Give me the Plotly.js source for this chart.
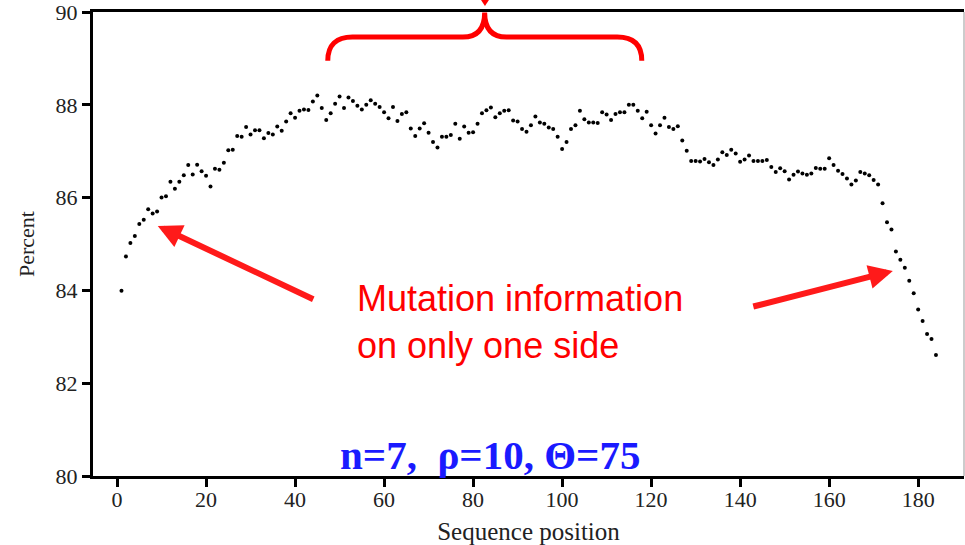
<!DOCTYPE html>
<html>
<head>
<meta charset="utf-8">
<script src="https://cdn.plot.ly/plotly-3.0.1.min.js"></script>
<style>html,body{margin:0;padding:0;background:#fff;}#chart{width:965px;height:545px;}</style>
</head>
<body>
<div id="chart"></div>
<script>
var percentValues = [
  83.99, 84.73, 85.02, 85.17, 85.43, 85.52, 85.75, 85.66, 85.70, 86.00,
  86.03, 86.34, 86.19, 86.34, 86.48, 86.70, 86.50, 86.71, 86.57, 86.47,
  86.24, 86.62, 86.60, 86.75, 87.02, 87.03, 87.33, 87.31, 87.52, 87.36,
  87.45, 87.45, 87.28, 87.39, 87.36, 87.53, 87.44, 87.64, 87.82, 87.72,
  87.87, 87.90, 87.89, 88.07, 88.20, 87.93, 87.67, 87.82, 88.02, 88.18,
  87.93, 88.16, 88.08, 87.98, 87.90, 88.00, 88.10, 88.02, 87.95, 87.84,
  87.71, 87.95, 87.65, 87.80, 87.84, 87.49, 87.33, 87.49, 87.60, 87.40,
  87.20, 87.08, 87.31, 87.31, 87.35, 87.59, 87.27, 87.53, 87.40, 87.41,
  87.59, 87.82, 87.88, 87.94, 87.73, 87.82, 87.87, 87.88, 87.66, 87.64,
  87.48, 87.42, 87.56, 87.75, 87.62, 87.59, 87.51, 87.48, 87.31, 87.05,
  87.20, 87.48, 87.56, 87.87, 87.69, 87.62, 87.62, 87.61, 87.84, 87.79,
  87.67, 87.80, 87.84, 87.84, 88.00, 88.00, 87.87, 87.71, 87.85, 87.56,
  87.38, 87.56, 87.72, 87.52, 87.48, 87.54, 87.23, 87.01, 86.79, 86.79,
  86.78, 86.83, 86.76, 86.70, 86.82, 86.98, 86.92, 87.03, 86.95, 86.77,
  86.82, 86.91, 86.79, 86.79, 86.79, 86.81, 86.66, 86.55, 86.63, 86.57,
  86.39, 86.49, 86.56, 86.52, 86.49, 86.52, 86.64, 86.62, 86.62, 86.85,
  86.70, 86.58, 86.51, 86.41, 86.28, 86.37, 86.55, 86.52, 86.48, 86.38,
  86.28, 85.88, 85.47, 85.31, 84.84, 84.66, 84.49, 84.21, 83.94, 83.59,
  83.34, 83.06, 82.95, 82.61
];
var positions = percentValues.map(function (v, i) { return i + 1; });
var xTickValues = [0, 20, 40, 60, 80, 100, 120, 140, 160, 180];
var yTickValues = [80, 82, 84, 86, 88, 90];

var serif = '"Liberation Serif", "Times New Roman", serif';

var trace = {
  x: positions,
  y: percentValues,
  type: 'scatter',
  mode: 'markers',
  marker: {color: '#000', size: 4},
  hoverinfo: 'x+y',
  showlegend: false
};

var layout = {
  width: 965,
  height: 545,
  margin: {l: 93, r: 1, t: 12, b: 69},
  paper_bgcolor: '#fff',
  plot_bgcolor: '#fff',
  font: {family: serif, color: '#000'},
  xaxis: {
    range: [-5.4, 190.3],
    tickvals: xTickValues,
    ticktext: xTickValues.map(String),
    ticks: 'outside', ticklen: 8, tickwidth: 3, tickcolor: '#000',
    ticklabelstandoff: -6,
    ticklabeloverflow: 'allow',
    showline: true, linewidth: 3, linecolor: '#000', mirror: true,
    showgrid: false, zeroline: false,
    tickfont: {family: serif, size: 22, color: '#222'},
    title: {text: 'Sequence position', font: {family: serif, size: 25, color: '#222'}, standoff: 18}
  },
  yaxis: {
    range: [80, 90],
    tickvals: yTickValues,
    ticktext: yTickValues.map(String),
    ticks: 'outside', ticklen: 8, tickwidth: 3, tickcolor: '#000',
    ticklabeloverflow: 'allow',
    showline: true, linewidth: 3, linecolor: '#000',
    showgrid: false, zeroline: false,
    tickfont: {family: serif, size: 22, color: '#222'},
    title: {text: 'Percent', font: {family: serif, size: 22, color: '#222'}, standoff: 15}
  },
  shapes: [
    {type: 'line', xref: 'paper', yref: 'paper', x0: 1, x1: 1, y0: 0, y1: 1,
     line: {color: '#999', width: 1}},
    {type: 'path', xref: 'x', yref: 'y', layer: 'above',
     path: 'M 47.35,88.95 Q 47.35,89.46 52.9,89.46 L 77.7,89.46 Q 82.6,89.46 82.6,89.99 ' +
           'Q 82.6,89.46 87.5,89.46 L 112.4,89.46 Q 117.9,89.46 117.9,88.95',
     line: {color: '#ff0000', width: 5}},
    {type: 'path', xref: 'paper', yref: 'paper',
     path: 'M 0.4455,1.0259 L 0.4546,1.0259 L 0.45,1.0129 Z',
     fillcolor: '#ff0000', line: {color: '#ff0000', width: 0}}
  ],
  annotations: [
    {x: 53.4, y: 83.31, xref: 'x', yref: 'y', xanchor: 'left', yanchor: 'middle', align: 'left',
     text: 'Mutation information<br>on only one side', showarrow: false,
     font: {family: '"Liberation Sans", Arial, sans-serif', size: 36, color: '#ff0000'}},
    {x: 83.75, y: 80.45, xref: 'x', yref: 'y', xanchor: 'center', yanchor: 'middle',
     text: '<b>n=7,\u00a0 \u03c1=10, \u0398=75</b>', showarrow: false,
     font: {family: serif, size: 41, color: '#1a1aff'}},
    {x: 9.15, y: 85.39, xref: 'x', yref: 'y', text: '', showarrow: true,
     ax: 157, ay: 74, axref: 'pixel', ayref: 'pixel',
     arrowhead: 2, arrowsize: 0.8, arrowwidth: 6, arrowcolor: '#ff1a1a'},
    {x: 174.3, y: 84.42, xref: 'x', yref: 'y', text: '', showarrow: true,
     ax: -141, ay: 36, axref: 'pixel', ayref: 'pixel',
     arrowhead: 2, arrowsize: 0.8, arrowwidth: 6, arrowcolor: '#ff1a1a'}
  ]
};

Plotly.newPlot('chart', [trace], layout, {displayModeBar: false, staticPlot: true});
</script>
</body>
</html>
